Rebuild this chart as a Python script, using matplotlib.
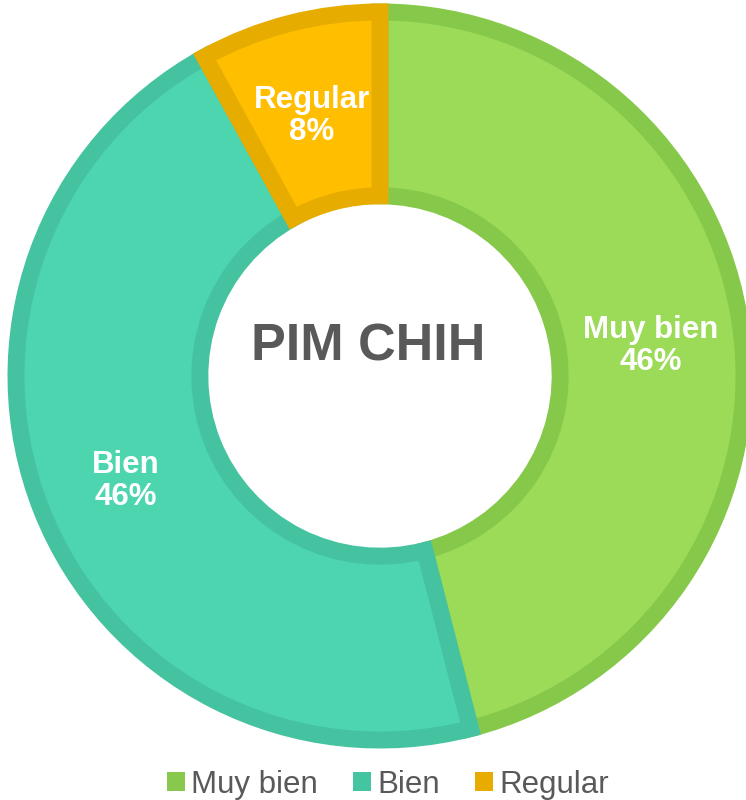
import matplotlib
matplotlib.use("Agg")
import matplotlib.pyplot as plt
import numpy as np
from matplotlib.patches import Patch

categories = ["Muy bien", "Bien", "Regular"]
values = [46, 46, 8]
fill_colors = ["#9BDB58", "#4DD5B0", "#FFBE00"]
edge_colors = ["#86C94A", "#45C3A1", "#E6AD00"]
center_title = "PIM CHIH"

W, H = 746, 800
fig = plt.figure(figsize=(W / 100, H / 100), dpi=100)
cx, cy, R = 380, 376, 364
ax = fig.add_axes([(cx - R) / W, (H - cy - R) / H, 2 * R / W, 2 * R / H])

wedges, _ = ax.pie(values, startangle=90, counterclock=False, colors=fill_colors,
                   radius=1.0, wedgeprops=dict(width=0.505, linewidth=17 * 0.72))
for w, ec in zip(wedges, edge_colors):
    w.set_edgecolor(ec)
    w.set_clip_path(w)

for w, cat, v in zip(wedges, categories, values):
    mid = np.deg2rad((w.theta1 + w.theta2) / 2)
    r = 0.75
    ax.text(r * np.cos(mid), r * np.sin(mid) - 0.012, f"{cat}\n{v}%", ha="center", va="center",
            color="white", fontsize=22.5, fontweight="bold", family="Liberation Sans",
            linespacing=1.1)

ax.text(-0.033, 0.08, center_title, ha="center", va="center", color="#595959",
        fontsize=37.5, fontweight="bold", family="Liberation Sans")
ax.set_xlim(-1, 1)
ax.set_ylim(-1, 1)
ax.set_aspect("equal")
ax.axis("off")

legend_colors = ["#88C84C", "#44C4A1", "#E8AC00"]
handles = [Patch(facecolor=c, edgecolor="none", label=l) for c, l in zip(legend_colors, categories)]
fig.legend(handles=handles, loc="lower center", bbox_to_anchor=(0.52, -0.035), ncol=3,
           frameon=False, handlelength=0.55, handleheight=0.55, handletextpad=0.2,
           columnspacing=1.15, prop=dict(family="Liberation Sans", size=22.5),
           labelcolor="#595959")

fig.savefig("out.png", dpi=100)
